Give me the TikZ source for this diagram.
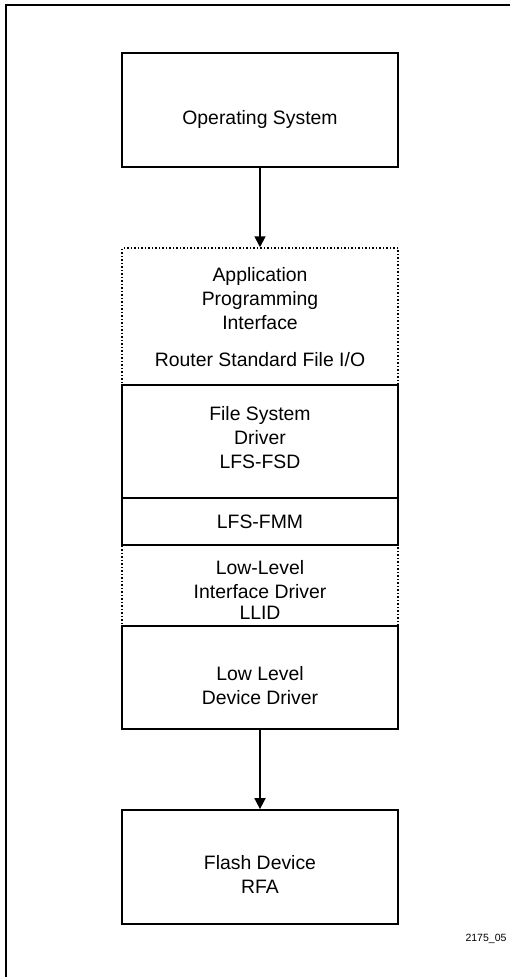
\documentclass[tikz,border=0pt]{standalone}
\usepackage{fontspec}
\setmainfont{Liberation Sans}
\usepackage{tikz}
\usetikzlibrary{arrows.meta}
\tikzstyle{layer} = [rectangle, minimum width=276pt, inner sep=0pt, draw=black, line width=1.8pt]
\tikzstyle{softlayer} = [rectangle, minimum width=276pt, inner sep=0pt, draw=black, line width=1.5pt, dotted]
\tikzstyle{arrow} = [line width=1.8pt,-{Triangle[width=11pt,length=11pt]}]
\tikzset{every label/.style={align=center, inner sep=0pt, font=\fontsize{19.4}{24}\selectfont}}

\begin{document}
\begin{tikzpicture}[x=1pt,y=-1pt]
\useasboundingbox (0,0) rectangle (509,977);

% Frame
\draw [line width=2pt] (520,5) -- (6,5) -- (6,990);

% Nodes
\node (api) at (260,316.5) [softlayer, minimum height=137pt,
  label={[yshift=-1pt]center:Application\\Programming\\Interface\\[13pt]Router Standard File I/O}] {};
\node (llid) at (260,585.5) [softlayer, minimum height=81pt,
  label={[yshift=-4pt]center:Low-Level\\Interface Driver\\[-3pt]LLID}] {};

\node (os) at (260,110) [layer, minimum height=114pt,
  label={[yshift=-9pt]center:Operating System}] {};
\node (fsd) at (260,441.5) [layer, minimum height=113pt,
  label={[yshift=4pt]center:File System\\Driver\\LFS-FSD}] {};
\node (fmm) at (260,521.5) [layer, minimum height=47pt,
  label={center:LFS-FMM}] {};
\node (lldd) at (260,677.5) [layer, minimum height=103pt,
  label={[yshift=-8pt]center:Low Level\\Device Driver}] {};
\node (flash) at (260,867) [layer, minimum height=114pt,
  label={[yshift=-7pt]center:Flash Device\\RFA}] {};

\node (figno) at (486,939) [font=\fontsize{10.5}{12}\selectfont] {2175\_05};

% Arrows
\draw [arrow] (os) -- (api);
\draw [arrow] (lldd) -- (flash);

\end{tikzpicture}
\end{document}
